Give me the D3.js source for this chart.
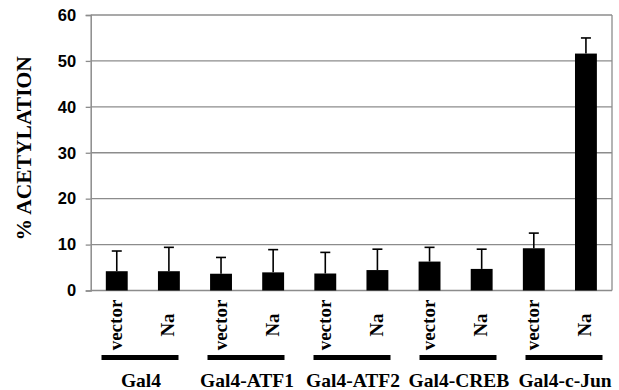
<!DOCTYPE html>
<html>
<head>
<meta charset="utf-8">
<script src="https://cdn.jsdelivr.net/npm/d3@7"></script>
<style>
  html, body { margin: 0; padding: 0; background: #fff; }
  svg { display: block; }
  .serif { font-family: "Liberation Serif", "Times New Roman", Times, serif; font-weight: bold; }
  .sans { font-family: "Liberation Sans", Arial, Helvetica, sans-serif; font-weight: bold; }
</style>
</head>
<body>
<svg id="chart" width="619" height="390"></svg>
<script>
// Acetylation by construct and treatment
const groups = ["Gal4", "Gal4-ATF1", "Gal4-ATF2", "Gal4-CREB", "Gal4-c-Jun"];
const treatments = ["vector", "Na"];
const means  = [4.2, 4.2, 3.65, 3.95, 3.7, 4.45, 6.3, 4.7, 9.2, 51.6];
const errors = [4.4, 5.2, 3.55, 4.95, 4.6, 4.55, 3.1, 4.3, 3.3, 3.4];
const yTicks = [0, 10, 20, 30, 40, 50, 60];

const bars = means.map((v, i) => ({
  id: i,
  group: groups[Math.floor(i / 2)],
  treatment: treatments[i % 2],
  value: v,
  err: errors[i]
}));

const svg = d3.select("#chart");
const plotLeft = 90.7, plotRight = 612, plotTop = 15, plotBottom = 290.5;

const x = d3.scaleBand().domain(bars.map(d => d.id)).range([plotLeft, plotRight]).paddingInner(0.58).paddingOuter(0.29);
const y = d3.scaleLinear().domain([0, 60]).range([plotBottom, plotTop]);
const xg = d3.scaleBand().domain(groups).range([87, 617]);

const grey = "#8c8c8c";

// horizontal grid
svg.append("g").selectAll("line").data(yTicks.filter(t => t > 0)).join("line")
  .attr("x1", plotLeft).attr("x2", plotRight)
  .attr("y1", d => y(d)).attr("y2", d => y(d))
  .attr("stroke", grey).attr("stroke-width", 1.3);

// right border
svg.append("line").attr("x1", plotRight).attr("x2", plotRight).attr("y1", plotTop).attr("y2", plotBottom)
  .attr("stroke", grey).attr("stroke-width", 1.3);

// bottom baseline
svg.append("line").attr("x1", plotLeft).attr("x2", plotRight).attr("y1", plotBottom).attr("y2", plotBottom)
  .attr("stroke", grey).attr("stroke-width", 1.5);

// y axis
const yAxis = svg.append("g").attr("transform", `translate(${plotLeft},0)`)
  .call(d3.axisLeft(y).tickValues(yTicks).tickSize(5).tickPadding(9.5));
yAxis.attr("font-family", null).attr("font-size", null);
yAxis.select(".domain").attr("stroke", grey).attr("stroke-width", 1.5);
yAxis.selectAll(".tick line").attr("stroke", grey).attr("stroke-width", 1.3);
yAxis.selectAll(".tick text")
  .attr("class", "sans")
  .style("font-size", "16.5px").attr("fill", "#000");

// y title
svg.append("text")
  .attr("class", "serif")
  .attr("transform", "translate(30.5,148.3) rotate(-90)")
  .attr("text-anchor", "middle")
  .style("font-size", "21.5px")
  .text("% ACETYLATION");

// bars
svg.append("g").selectAll("rect").data(bars).join("rect")
  .attr("x", d => x(d.id)).attr("width", x.bandwidth())
  .attr("y", d => y(d.value)).attr("height", d => y(0) - y(d.value))
  .attr("fill", "#000");

// error bars (upper only)
const eb = svg.append("g").attr("stroke", "#000").attr("stroke-width", 1.6);
eb.selectAll("line.v").data(bars).join("line").attr("class", "v")
  .attr("x1", d => x(d.id) + x.bandwidth() / 2).attr("x2", d => x(d.id) + x.bandwidth() / 2)
  .attr("y1", d => y(d.value)).attr("y2", d => y(d.value + d.err));
eb.selectAll("line.c").data(bars).join("line").attr("class", "c")
  .attr("x1", d => x(d.id) + x.bandwidth() / 2 - 5).attr("x2", d => x(d.id) + x.bandwidth() / 2 + 5)
  .attr("y1", d => y(d.value + d.err)).attr("y2", d => y(d.value + d.err));

// treatment labels
svg.append("g").selectAll("text").data(bars).join("text")
  .attr("class", "serif")
  .attr("transform", d => `translate(${x(d.id) + x.bandwidth() / 2 + 5.5},325) rotate(-90)`)
  .attr("text-anchor", "middle")
  .style("font-size", "19px")
  .text(d => d.treatment);

// group underlines
svg.append("g").selectAll("line").data(groups).join("line")
  .attr("x1", d => xg(d) + xg.bandwidth() / 2 - 38.5)
  .attr("x2", d => xg(d) + xg.bandwidth() / 2 + 38.5)
  .attr("y1", 357.5).attr("y2", 357.5)
  .attr("stroke", "#000").attr("stroke-width", 5);

// group labels
svg.append("g").selectAll("text").data(groups).join("text")
  .attr("class", "serif")
  .attr("x", d => xg(d) + xg.bandwidth() / 2 + 1)
  .attr("y", 386.5)
  .attr("text-anchor", "middle")
  .style("font-size", "19.5px")
  .text(d => d);
</script>
</body>
</html>
